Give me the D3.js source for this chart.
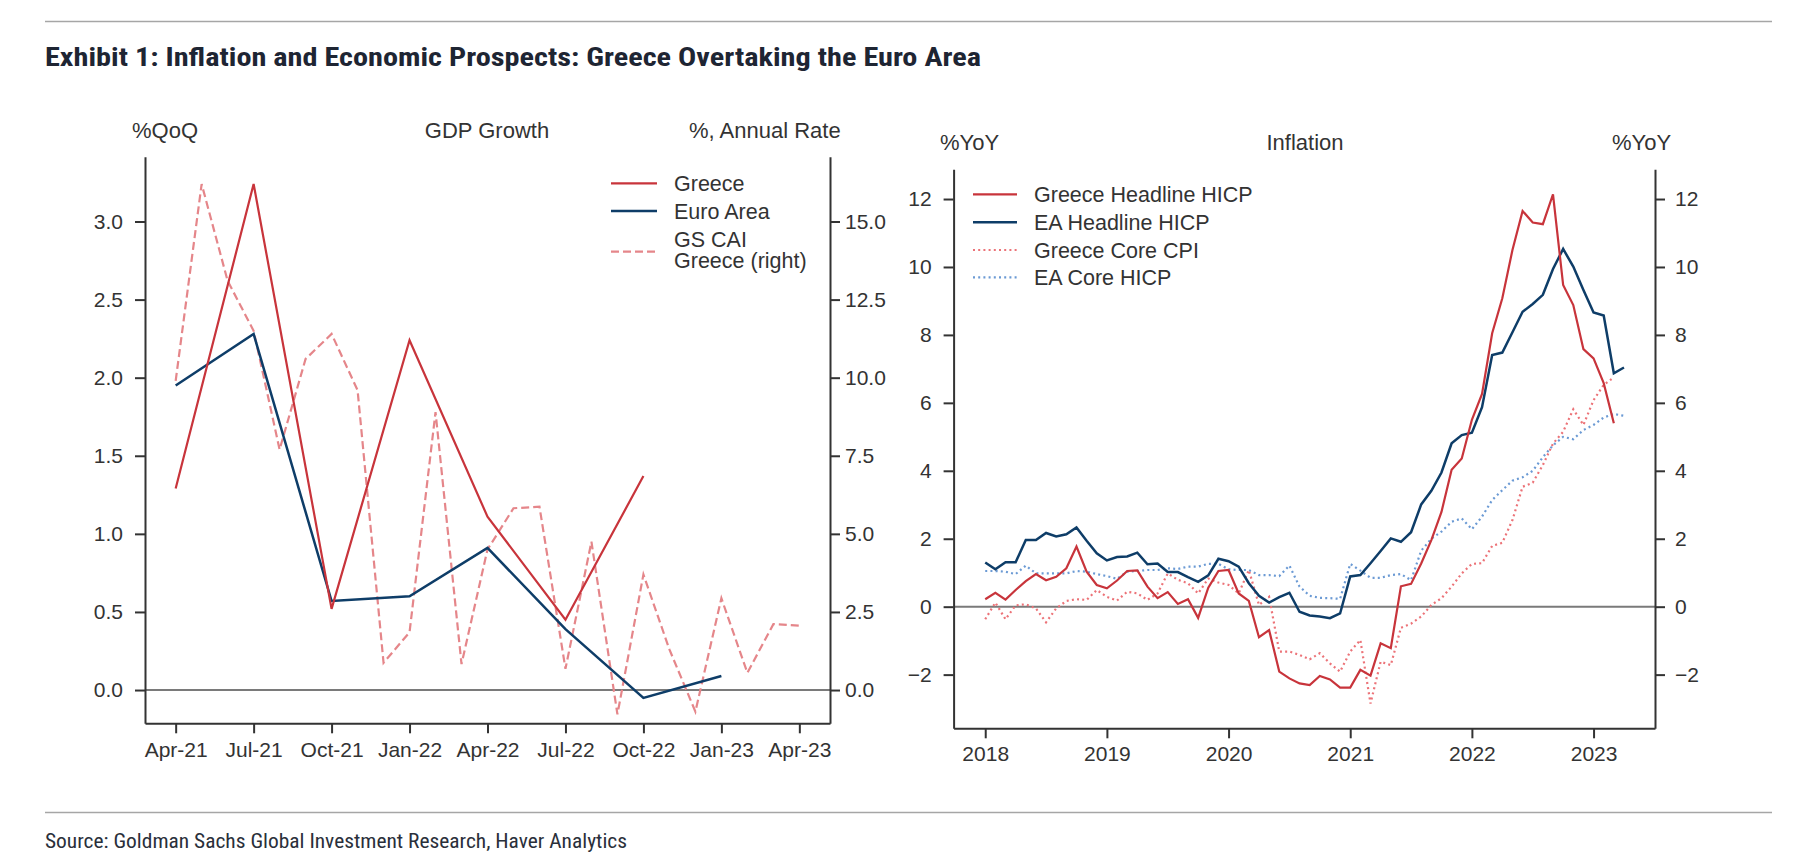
<!DOCTYPE html>
<html>
<head>
<meta charset="utf-8">
<script src="https://cdn.jsdelivr.net/npm/d3@7"></script>
<style>
  html, body { margin: 0; padding: 0; background: #fff; }
  svg { display: block; }
  text { font-family: "Liberation Sans", Arial, sans-serif; fill: #333; }
</style>
</head>
<body>
<svg id="chart" width="1793" height="867"></svg>
<script>
// ---------------- DATA ----------------
// Left panel: GDP growth (quarterly, %QoQ) and GS CAI Greece (monthly, right axis)
const gdpQuarterLabels = ["Apr-21","Jul-21","Oct-21","Jan-22","Apr-22","Jul-22","Oct-22","Jan-23","Apr-23"];
const greeceGDP   = [1.29, 3.24, 0.52, 2.24, 1.11, 0.45, 1.37];
const euroAreaGDP = [1.95, 2.28, 0.57, 0.60, 0.91, 0.39, -0.05, 0.09];
// monthly, Apr-21 ... Apr-23
const gsCaiGreece = [9.9, 16.2, 13.1, 11.5, 7.7, 10.6, 11.4, 9.6, 0.87, 1.85, 8.9, 0.83,
                     4.5, 5.82, 5.87, 0.68, 4.75, -0.78, 3.7, 1.3, -0.69, 2.94, 0.55, 2.11, 2.06];
const gdpLeftTicks  = [0.0, 0.5, 1.0, 1.5, 2.0, 2.5, 3.0];
const gdpRightTicks = [0.0, 2.5, 5.0, 7.5, 10.0, 12.5, 15.0];

// Right panel: inflation, monthly from Jan-2018
const inflationYearLabels = ["2018","2019","2020","2021","2022","2023"];
const greeceHICP = [0.22,0.41,0.21,0.49,0.75,0.96,0.78,0.88,1.13,1.77,1.03,0.64,
  0.54,0.77,1.05,1.07,0.59,0.25,0.43,0.08,0.22,-0.33,0.56,1.05,
  1.08,0.39,0.17,-0.90,-0.69,-1.91,-2.11,-2.26,-2.31,-2.04,-2.14,-2.38,
  -2.38,-1.86,-2.03,-1.08,-1.22,0.60,0.67,1.27,1.96,2.79,4.03,4.36,
  5.5,6.26,8.05,9.08,10.5,11.65,11.31,11.26,12.14,9.47,8.88,7.58,
  7.31,6.58,5.40];
const eaHICP = [1.30,1.10,1.31,1.31,1.96,1.96,2.17,2.07,2.13,2.33,1.94,1.57,
  1.36,1.46,1.48,1.59,1.25,1.27,1.02,1.02,0.87,0.73,0.92,1.41,
  1.34,1.18,0.69,0.32,0.12,0.28,0.41,-0.15,-0.26,-0.29,-0.34,-0.20,
  0.89,0.93,1.28,1.64,2.01,1.91,2.19,3.01,3.41,3.95,4.81,5.05,
  5.12,5.87,7.41,7.48,8.08,8.68,8.91,9.18,9.94,10.53,10.01,9.32,
  8.66,8.57,6.87,7.04];
const greeceCoreCPI = [-0.37,0.12,-0.37,0.04,0.07,-0.05,-0.46,-0.05,0.17,0.22,0.20,0.49,
  0.29,0.18,0.44,0.39,0.20,0.39,0.98,0.79,0.69,0.39,0.83,0.71,
  0.64,0.39,1.08,0.05,0.29,-1.32,-1.32,-1.42,-1.55,-1.37,-1.67,-1.91,
  -1.32,-0.98,-2.85,-1.62,-1.72,-0.62,-0.50,-0.29,0.05,0.25,0.59,0.98,
  1.26,1.28,1.79,1.88,2.55,3.53,3.65,4.17,4.8,5.15,5.81,5.35,
  6.08,6.53,6.75];
const eaCoreHICP = [1.05,1.05,1.03,0.96,1.21,0.98,0.98,0.98,0.98,1.05,1.03,0.96,
  0.90,0.82,1.03,1.05,1.08,1.08,1.13,1.11,1.18,1.18,1.26,1.26,
  1.10,1.08,1.08,0.93,0.93,0.90,1.21,0.59,0.32,0.26,0.25,0.23,
  1.26,1.06,0.85,0.85,0.93,0.96,0.78,1.65,2.0,2.21,2.5,2.6,
  2.28,2.65,3.14,3.43,3.71,3.81,4.0,4.4,4.75,5.0,4.93,5.2,
  5.35,5.57,5.67,5.62];
const inflationTicks = [-2, 0, 2, 4, 6, 8, 10, 12];

// ---------------- STYLE ----------------
const RED = "#c8343b", NAVY = "#0e3d68", LIGHTRED = "#e5868a", CORERED = "#ec7378", COREBLUE = "#6b9ad4";
const AXIS = "#333", ZERO = "#7a7a7a";

const svg = d3.select("#chart");

// rules, title, source
svg.append("line").attr("x1", 45).attr("x2", 1772).attr("y1", 21.5).attr("y2", 21.5)
  .attr("stroke", "#a6a6a6").attr("stroke-width", 1.5);
svg.append("line").attr("x1", 45).attr("x2", 1772).attr("y1", 812.5).attr("y2", 812.5)
  .attr("stroke", "#a6a6a6").attr("stroke-width", 1.5);
svg.append("text").attr("x", 45).attr("y", 65.5)
  .attr("textLength", 936).attr("lengthAdjust", "spacingAndGlyphs")
  .style("font-family", "'Liberation Sans Narrow', 'Roboto Condensed', 'Liberation Sans', Arial, sans-serif")
  .style("font-weight", "bold").style("font-size", "25px").style("fill", "#1e2533")
  .text("Exhibit 1: Inflation and Economic Prospects: Greece Overtaking the Euro Area");
svg.append("text").attr("x", 45).attr("y", 848)
  .attr("textLength", 582).attr("lengthAdjust", "spacingAndGlyphs")
  .style("font-family", "'Liberation Sans Narrow', 'Roboto Condensed', 'Liberation Sans', Arial, sans-serif")
  .style("font-size", "20px").style("fill", "#2a2f3a")
  .text("Source: Goldman Sachs Global Investment Research, Haver Analytics");

function styleAxis(g, fontSize) {
  g.selectAll("path.domain").attr("stroke", AXIS).attr("stroke-width", 2);
  g.selectAll(".tick line").attr("stroke", AXIS).attr("stroke-width", 2);
  g.selectAll(".tick text").style("font-family", "'Liberation Sans', Arial, sans-serif")
    .style("font-size", fontSize + "px").attr("fill", "#333");
}

// ================= LEFT PANEL =================
const L = { left: 145, right: 830, top: 156.7, bottom: 723.3 };
const xL = d3.scaleLinear().domain([-1.18, 25.18]).range([L.left, L.right]); // months since Apr-21
const yL = d3.scaleLinear().domain([-0.213, 3.415]).range([L.bottom, L.top]);
const yLR = d3.scaleLinear().domain([-0.213 * 5, 3.415 * 5]).range([L.bottom, L.top]);

// zero line
svg.append("line").attr("x1", L.left).attr("x2", L.right).attr("y1", yL(0)).attr("y2", yL(0))
  .attr("stroke", ZERO).attr("stroke-width", 2);

const gLx = svg.append("g").attr("transform", `translate(0,${L.bottom})`)
  .call(d3.axisBottom(xL).tickValues(gdpQuarterLabels.map((d, i) => i * 3))
    .tickFormat((d, i) => gdpQuarterLabels[i]).tickSize(10).tickSizeOuter(0).tickPadding(9));
styleAxis(gLx, 21);
const gLy = svg.append("g").attr("transform", `translate(${L.left},0)`)
  .call(d3.axisLeft(yL).tickValues(gdpLeftTicks).tickFormat(d3.format(".1f")).tickSize(10).tickSizeOuter(0).tickPadding(12));
styleAxis(gLy, 21);
const gLr = svg.append("g").attr("transform", `translate(${L.right},0)`)
  .call(d3.axisRight(yLR).tickValues(gdpRightTicks).tickFormat(d3.format(".1f")).tickSize(10).tickSizeOuter(0).tickPadding(5));
styleAxis(gLr, 21);

const lineL = d3.line().x(d => xL(d[0])).y(d => yL(d[1]));
const lineLR = d3.line().x(d => xL(d[0])).y(d => yLR(d[1]));

svg.append("path").datum(gsCaiGreece.map((v, i) => [i, v])).attr("d", lineLR)
  .attr("fill", "none").attr("stroke", LIGHTRED).attr("stroke-width", 2.2).attr("stroke-dasharray", "8,4");
svg.append("path").datum(euroAreaGDP.map((v, i) => [i * 3, v])).attr("d", lineL)
  .attr("fill", "none").attr("stroke", NAVY).attr("stroke-width", 2.5);
svg.append("path").datum(greeceGDP.map((v, i) => [i * 3, v])).attr("d", lineL)
  .attr("fill", "none").attr("stroke", RED).attr("stroke-width", 2.2);

// headers
const hdr = (x, y, t, anchor) => svg.append("text").attr("x", x).attr("y", y).attr("text-anchor", anchor || "start")
  .style("font-size", "22px").attr("fill", "#333").text(t);
hdr(132, 138, "%QoQ");
hdr(487, 138, "GDP Growth", "middle");
hdr(689, 138, "%, Annual Rate");

// legend left
const legL = [
  { y: 183.3, color: RED, dash: null, w: 2.2, text: ["Greece"] },
  { y: 211, color: NAVY, dash: null, w: 2.5, text: ["Euro Area"] },
  { y: 251.7, color: LIGHTRED, dash: "8,4", w: 2.2, text: ["GS CAI", "Greece (right)"] }
];
legL.forEach(d => {
  svg.append("line").attr("x1", 611).attr("x2", 657).attr("y1", d.y).attr("y2", d.y)
    .attr("stroke", d.color).attr("stroke-width", d.w).attr("stroke-dasharray", d.dash);
  if (d.text.length === 1) {
    svg.append("text").attr("x", 674).attr("y", d.y + 7.7).style("font-size", "21.5px").text(d.text[0]);
  } else {
    svg.append("text").attr("x", 674).attr("y", 239.3 + 7.7).style("font-size", "21.5px").text(d.text[0]);
    svg.append("text").attr("x", 674).attr("y", 260.7 + 7.7).style("font-size", "21.5px").text(d.text[1]);
  }
});

// ================= RIGHT PANEL =================
const R = { left: 953.6, right: 1655, top: 169.3, bottom: 728.3 };
const xR = d3.scaleLinear().domain([-3.12, 66.06]).range([R.left, R.right]); // months since Jan-2018
const yR = d3.scaleLinear().domain([-3.58, 12.875]).range([R.bottom, R.top]);

svg.append("line").attr("x1", R.left).attr("x2", R.right).attr("y1", yR(0)).attr("y2", yR(0))
  .attr("stroke", ZERO).attr("stroke-width", 2);

const gRx = svg.append("g").attr("transform", `translate(0,${R.bottom})`)
  .call(d3.axisBottom(xR).tickValues(inflationYearLabels.map((d, i) => i * 12))
    .tickFormat((d, i) => inflationYearLabels[i]).tickSize(10).tickSizeOuter(0).tickPadding(8));
styleAxis(gRx, 21);
const gRy = svg.append("g").attr("transform", `translate(${R.left},0)`)
  .call(d3.axisLeft(yR).tickValues(inflationTicks).tickFormat(d3.format("d")).tickSize(10).tickSizeOuter(0).tickPadding(12));
styleAxis(gRy, 21);
const gRr = svg.append("g").attr("transform", `translate(${R.right},0)`)
  .call(d3.axisRight(yR).tickValues(inflationTicks).tickFormat(d3.format("d")).tickSize(10).tickSizeOuter(0).tickPadding(10));
styleAxis(gRr, 21);

const lineR = d3.line().x((d, i) => xR(i)).y(d => yR(d));
svg.append("path").datum(greeceCoreCPI).attr("d", lineR).attr("fill", "none")
  .attr("stroke", CORERED).attr("stroke-width", 2.2).attr("stroke-dasharray", "2,3.2");
svg.append("path").datum(eaCoreHICP).attr("d", lineR).attr("fill", "none")
  .attr("stroke", COREBLUE).attr("stroke-width", 2.2).attr("stroke-dasharray", "2,3.2");
svg.append("path").datum(eaHICP).attr("d", lineR).attr("fill", "none")
  .attr("stroke", NAVY).attr("stroke-width", 2.5);
svg.append("path").datum(greeceHICP).attr("d", lineR).attr("fill", "none")
  .attr("stroke", RED).attr("stroke-width", 2.2);

hdr(940, 150, "%YoY");
hdr(1305, 150, "Inflation", "middle");
hdr(1612, 150, "%YoY");

const legR = [
  { y: 194.3, color: RED, dash: null, w: 2.2, text: "Greece Headline HICP" },
  { y: 222.3, color: NAVY, dash: null, w: 2.5, text: "EA Headline HICP" },
  { y: 250, color: CORERED, dash: "2,3.2", w: 2.2, text: "Greece Core CPI" },
  { y: 277.3, color: COREBLUE, dash: "2,3.2", w: 2.2, text: "EA Core HICP" }
];
legR.forEach(d => {
  svg.append("line").attr("x1", 973).attr("x2", 1017).attr("y1", d.y).attr("y2", d.y)
    .attr("stroke", d.color).attr("stroke-width", d.w).attr("stroke-dasharray", d.dash);
  svg.append("text").attr("x", 1034).attr("y", d.y + 7.7).style("font-size", "21.5px").text(d.text);
});
</script>
</body>
</html>
